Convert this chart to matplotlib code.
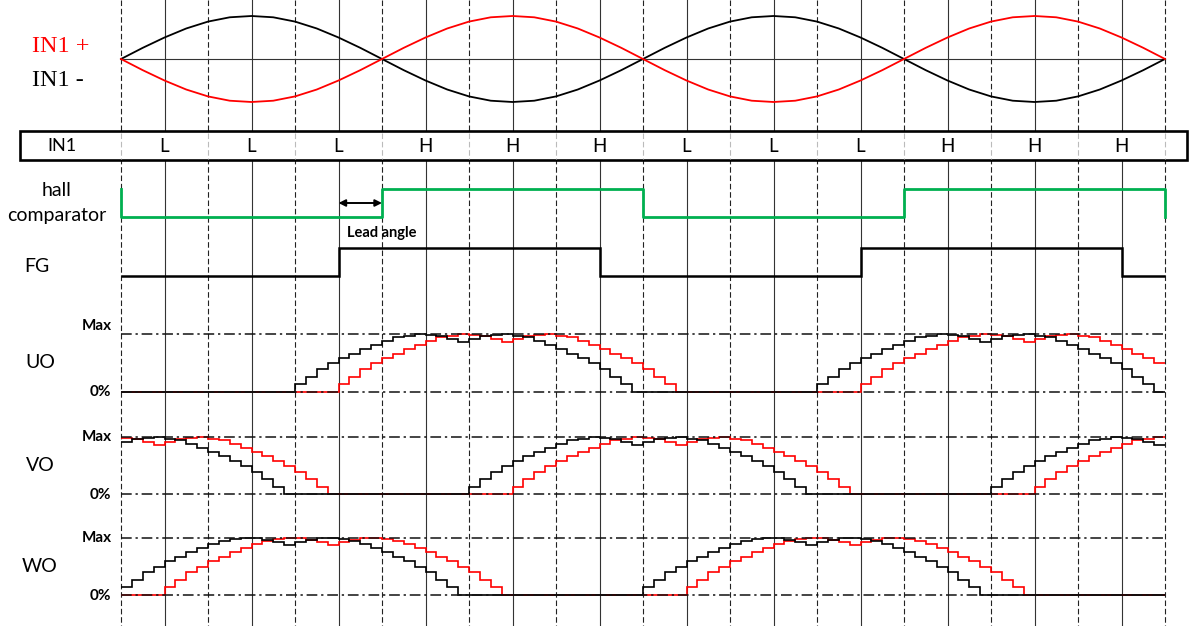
import numpy as np
import matplotlib
matplotlib.use("Agg")
import matplotlib.pyplot as plt
from matplotlib.patches import Rectangle

# ----------------------------
# data
# ----------------------------
# hall input, sampled every half grid cell (15 deg), IN1- rises first
in1_minus = [0.0, 0.26, 0.5, 0.71, 0.87, 0.97, 1.0, 0.97, 0.87, 0.71, 0.5, 0.26,
             0.0, -0.26, -0.5, -0.71, -0.87, -0.97, -1.0, -0.97, -0.87, -0.71, -0.5, -0.26,
             0.0, 0.26, 0.5, 0.71, 0.87, 0.97, 1.0, 0.97, 0.87, 0.71, 0.5, 0.26,
             0.0, -0.26, -0.5, -0.71, -0.87, -0.97, -1.0, -0.97, -0.87, -0.71, -0.5, -0.26,
             0.0]
in1_plus = [-v for v in in1_minus]

in1_levels = ["L", "L", "L", "H", "H", "H", "L", "L", "L", "H", "H", "H"]

hall_edges = [0, 6, 12, 18, 24]
hall_levels = [0, 1, 0, 1]

fg_edges = [0, 5, 11, 17, 23, 24]
fg_levels = [0, 1, 0, 1, 0]

# output level per quarter cell (% of max), one electrical period = 48 steps
duty_profile = [13, 26, 39, 49, 58, 66, 74, 81, 88, 94, 97, 100,
                99, 96, 92, 86, 92, 96, 99, 100, 97, 94, 88, 81,
                74, 66, 58, 49, 39, 26, 13, 0,
                0, 0, 0, 0, 0, 0, 0, 0, 0, 0, 0, 0, 0, 0, 0, 0]
phase_names = ["UO", "VO", "WO"]
phase_start = [16, 32, 0]    # step where the black trace leaves 0%
lag_steps = 4                # red trace is one cell later
red_blank = [3, 0, 0]        # leading steps where the red trace is left at 0%
n_steps = 96

# ----------------------------
# layout (pixels)
# ----------------------------
W, H = 1197, 626
PX0, CELL = 121, 43.5
n_cells = 24
XL = (-PX0 / CELL, (W - PX0) / CELL)

plt.rcParams['font.family'] = ['Lato', 'DejaVu Sans']

fig = plt.figure(figsize=(W / 100, H / 100), dpi=100)

bg = fig.add_axes([0, 0, 1, 1])
bg.set_xlim(0, W)
bg.set_ylim(H, 0)
bg.axis("off")


def lane(top, bottom, lo, hi):
    ax = fig.add_axes([0, 1 - bottom / H, 1, (bottom - top) / H])
    ax.set_xlim(*XL)
    ax.set_ylim(lo, hi)
    ax.axis("off")
    return ax


# vertical grid
for i in range(n_cells + 1):
    x = PX0 + i * CELL
    if i % 2 == 0:
        bg.plot([x, x], [0, H], color="#222222", lw=0.8, ls=(0, (5, 2.5)))
    else:
        bg.plot([x, x], [0, H], color="#333333", lw=0.8)

# IN1 box
bg.add_patch(Rectangle((20, 131), 1167, 29, facecolor="white", edgecolor="black",
                       lw=1.9, zorder=3))
for i in range(0, n_cells + 1, 2):
    x = PX0 + i * CELL
    bg.plot([x, x], [132.5, 158.5], color="#bbbbbb", lw=0.8, ls=(0, (5, 2.5)), zorder=4)
bg.text(62, 146, "IN1", fontsize=13, ha="center", va="center", zorder=5)
for j, s in enumerate(in1_levels):
    bg.text(PX0 + (2 * j + 1) * CELL, 146, s, fontsize=13.5, ha="center", va="center", zorder=5)

# sine inputs
ax_s = lane(16, 102, -1, 1)
xs = np.arange(len(in1_minus)) / 2
ax_s.plot([0, n_cells], [0, 0], color="#333333", lw=0.8)
ax_s.plot(xs, in1_minus, color="black", lw=1.3, clip_on=False)
ax_s.plot(xs, in1_plus, color="red", lw=1.3, clip_on=False)
bg.text(32, 47, "IN1 +", color="red", fontsize=17.5, family="Liberation Serif",
        ha="left", va="center")
bg.text(32, 80, "IN1 -", color="black", fontsize=17.5, family="Liberation Serif",
        ha="left", va="center")

# hall comparator
ax_h = lane(189, 217, 0, 1)
hx = [hall_edges[0]]
hy = [1 - hall_levels[0]]
for k, lv in enumerate(hall_levels):
    hx += [hall_edges[k], hall_edges[k + 1]]
    hy += [lv, lv]
hx.append(hall_edges[-1])
hy.append(1 - hall_levels[-1])
ax_h.plot(hx, hy, color="#00b050", lw=2.0, clip_on=False)
ax_h.annotate("", xy=(hall_edges[1], 0.5), xytext=(fg_edges[1], 0.5),
              arrowprops=dict(arrowstyle="<|-|>", color="black", lw=1.4,
                              mutation_scale=10, shrinkA=0, shrinkB=0))
bg.text(57, 190, "hall", fontsize=14, ha="center", va="center")
bg.text(57, 215, "comparator", fontsize=14, ha="center", va="center")
bg.text(PX0 + hall_edges[1] * CELL, 233, "Lead angle", fontsize=10.5, fontweight="bold",
        ha="center", va="center")

# FG
ax_f = lane(248, 276, 0, 1)
ax_f.stairs(fg_levels, fg_edges, baseline=None, color="black", lw=1.8, clip_on=False)
bg.text(37, 266, "FG", fontsize=14, ha="center", va="center")

# UO / VO / WO
lanes_px = [(334, 391.5), (437, 494), (537.5, 594.5)]
max_lbl_y = [326, 437, 538]
edges = np.arange(n_steps + 1) / 4
for name, start, blank, (top, bottom), my in zip(phase_names, phase_start, red_blank,
                                                  lanes_px, max_lbl_y):
    ax = lane(top, bottom, 0, 100)
    for lv in (0, 100):
        ax.plot([0, n_cells], [lv, lv], color="#111111", lw=1.1,
                ls=(0, (7, 2.5, 1.5, 2.5)), clip_on=False)
    black = [duty_profile[(k - start) % 48] for k in range(n_steps)]
    red = [0 if k < blank else duty_profile[(k - start - lag_steps) % 48]
           for k in range(n_steps)]
    ax.stairs(red, edges, baseline=None, color="red", lw=1.2, clip_on=False)
    ax.stairs(black, edges, baseline=None, color="black", lw=1.2, clip_on=False)
    bg.text(40, (top + bottom) / 2, name, fontsize=14, ha="center", va="center")
    bg.text(112, my, "Max", fontsize=11, fontweight="bold", ha="right", va="center")
    bg.text(111, bottom + 1, "0%", fontsize=11, fontweight="bold", ha="right", va="center")

fig.savefig("out.png", dpi=100)
